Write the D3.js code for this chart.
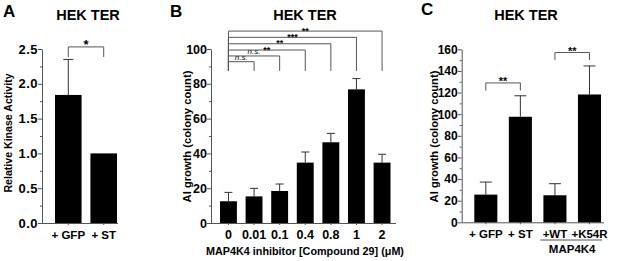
<!DOCTYPE html>
<html><head><meta charset="utf-8">
<script src="https://cdn.jsdelivr.net/npm/d3@7"></script>
<style>
html,body{margin:0;padding:0;background:#fff;}
svg{display:block;}
text{font-family:"Liberation Sans",Arial,Helvetica,sans-serif;font-weight:bold;fill:#000;}
</style></head>
<body><svg id="c" width="617" height="261"></svg>
<script>
// ---- Panel A data ----
const catsA = ["+ GFP", "+ ST"];
const valsA = [1.84, 1.0];
const errA = [0.51, 0];
const ticksA = [0, 0.5, 1.0, 1.5, 2.0, 2.5];
const sigA = [["+ GFP", "+ ST", "*", 2.53, 2.385]];

// ---- Panel B data ----
const catsB = ["0", "0.01", "0.1", "0.4", "0.8", "1", "2"];
const valsB = [12.5, 15.3, 18.4, 34.7, 46.4, 76.8, 34.7];
const errB = [5.1, 4.6, 4.0, 6.1, 5.1, 6.2, 4.8];
const ticksB = [0, 20, 40, 60, 80, 100];
const sigB = [
  ["0", "0.01", "n.s.", 92.7, 87.4],
  ["0", "0.1", "n.s.", 96.0, 87.4],
  ["0", "0.4", "**", 99.4, 87.4],
  ["0", "0.8", "**", 103.0, 87.4],
  ["0", "1", "***", 106.7, 87.4],
  ["0", "2", "**", 110.3, 87.4]
];

// ---- Panel C data ----
const catsC = ["+ GFP", "+ ST", "+WT", "+K54R"];
const valsC = [25.6, 97.6, 25.0, 118.2];
const errC = [11.6, 19.4, 10.7, 26.4];
const ticksC = [0, 20, 40, 60, 80, 100, 120, 140, 160];
const sigC = [
  ["+ GFP", "+ ST", "**", 128.9, 121.8],
  ["+WT", "+K54R", "**", 157.0, 150.0]
];

const svg = d3.select("#c");
const AX = "#555";

function panel(o) {
  const g = svg.append("g");
  const y = d3.scaleLinear().domain(o.ydom).range([o.bottom, o.top]);
  const x = d3.scaleBand().domain(o.cats).range(o.barRange).paddingInner(o.pad).paddingOuter(0);
  const minor = [];
  for (let i = 0; i < o.ticks.length - 1; i++) minor.push((o.ticks[i] + o.ticks[i + 1]) / 2);
  g.append("g").attr("transform", `translate(${o.axisX},0)`)
    .call(d3.axisLeft(y).tickValues(minor).tickSize(2).tickFormat(""))
    .call(s => { s.select(".domain").remove(); s.selectAll("line").attr("stroke", AX); });
  const ya = g.append("g").attr("transform", `translate(${o.axisX},0)`)
    .call(d3.axisLeft(y).tickValues(o.ticks).tickSize(4).tickPadding(o.tickPad).tickFormat(o.fmt).tickSizeOuter(0));
  ya.select(".domain").attr("stroke", AX);
  ya.selectAll("line").attr("stroke", AX);
  ya.selectAll("text").style("font-size", o.yfs + "px").style("font-family", "'Liberation Sans',Arial,sans-serif")
    .style("font-weight", "bold").attr("fill", "#000").style("letter-spacing", (o.ls || 0) + "px");
  const xa = g.append("g").attr("transform", `translate(0,${o.bottom})`)
    .call(d3.axisBottom(x).tickSize(2).tickPadding(o.xPad));
  xa.select(".domain").remove();
  xa.selectAll("line").attr("stroke", AX);
  xa.selectAll("text").style("font-size", o.xfs + "px").style("font-family", "'Liberation Sans',Arial,sans-serif")
    .style("font-weight", "bold").attr("fill", "#000");
  g.append("line").attr("x1", o.axisX).attr("x2", o.axisEnd).attr("y1", o.bottom + 0.5).attr("y2", o.bottom + 0.5)
    .attr("stroke", AX).attr("stroke-width", 1);
  const cx = d => x(d) + x.bandwidth() / 2;
  o.cats.forEach((c, i) => {
    if (o.err[i] > 0) {
      g.append("line").attr("x1", cx(c)).attr("x2", cx(c)).attr("y1", y(o.vals[i])).attr("y2", y(o.vals[i] + o.err[i]))
        .attr("stroke", "#333").attr("stroke-width", 1);
      g.append("line").attr("x1", cx(c) - o.cap / 2).attr("x2", cx(c) + o.cap / 2)
        .attr("y1", y(o.vals[i] + o.err[i])).attr("y2", y(o.vals[i] + o.err[i]))
        .attr("stroke", "#333").attr("stroke-width", 1);
    }
  });
  g.selectAll("rect.bar").data(o.cats).join("rect").attr("class", "bar")
    .attr("x", d => x(d)).attr("width", x.bandwidth())
    .attr("y", (d, i) => y(o.vals[i])).attr("height", (d, i) => o.bottom - y(o.vals[i]))
    .attr("fill", "#000");
  o.sig.forEach(s => {
    const x1 = cx(s[0]), x2 = cx(s[1]), yt = y(s[3]), yb = y(s[4]);
    g.append("path").attr("d", `M${x1},${yb}V${yt}H${x2}V${yb}`).attr("fill", "none")
      .attr("stroke", "#555").attr("stroke-width", 1);
    const ns = s[2] === "n.s.";
    g.append("text").attr("x", (x1 + x2) / 2).attr("y", yt - (ns ? 1.5 : -2.5)).attr("text-anchor", "middle")
      .style("font-size", (ns ? o.nsfs : o.sfs) + "px").style("font-style", ns ? "italic" : "normal")
      .style("font-weight", ns ? "normal" : "bold")
      .text(s[2]);
  });
  g.append("text").attr("x", o.titleX).attr("y", 20).attr("text-anchor", "middle").style("font-size", "14.5px").text("HEK TER");
  g.append("text").attr("x", o.letterX).attr("y", o.letterY).style("font-size", "17px").text(o.letter);
  g.append("text").attr("transform", `translate(${o.ylX},${o.ylY}) rotate(-90)`).attr("text-anchor", "middle")
    .style("font-size", o.ylfs + "px").text(o.ylabel);
  return { g, x, y };
}

panel({
  cats: catsA, vals: valsA, err: errA, ticks: ticksA, sig: sigA, ydom: [0, 2.5],
  top: 49, bottom: 223, axisX: 42, axisEnd: 118, barRange: [55, 117], pad: 0.25,
  fmt: d3.format(".1f"), yfs: 13, ls: 0.5, tickPad: 0, xfs: 11.5, xPad: 6, cap: 10,
  sfs: 13, nsfs: 8, titleX: 88, letter: "A", letterX: 3, letterY: 17,
  ylabel: "Relative Kinase Activity", ylX: 12, ylY: 133, ylfs: 10.6
});

const pB = panel({
  cats: catsB, vals: valsB, err: errB, ticks: ticksB, sig: sigB, ydom: [0, 100],
  top: 49, bottom: 223, axisX: 211, axisEnd: 396, barRange: [220, 390.5], pad: 0.34,
  fmt: d3.format("d"), yfs: 12.5, tickPad: 0, xfs: 12.5, xPad: 5, cap: 8,
  sfs: 9, nsfs: 8, titleX: 305, letter: "B", letterX: 170, letterY: 17,
  ylabel: "AI growth (colony count)", ylX: 191, ylY: 136.5, ylfs: 11.2
});
pB.g.append("text").attr("x", 305).attr("y", 254.5).attr("text-anchor", "middle").style("font-size", "10.8px")
  .text("MAP4K4 inhibitor [Compound 29] (\u03BCM)");

const pC = panel({
  cats: catsC, vals: valsC, err: errC, ticks: ticksC, sig: sigC, ydom: [0, 160],
  top: 49.3, bottom: 222.3, axisX: 461.7, axisEnd: 604, barRange: [474.3, 601], pad: 0.333,
  fmt: d3.format("d"), yfs: 12, tickPad: 0, xfs: 11.5, xPad: 6, cap: 12,
  sfs: 11, nsfs: 8, titleX: 526, letter: "C", letterX: 421, letterY: 15,
  ylabel: "AI growth (colony count)", ylX: 438, ylY: 136.5, ylfs: 11.2
});
{
  const x = pC.x, bw = x.bandwidth();
  pC.g.append("line").attr("x1", x("+WT") - 3).attr("x2", x("+K54R") + bw + 1).attr("y1", 240).attr("y2", 240)
    .attr("stroke", "#555").attr("stroke-width", 1);
  pC.g.append("text").attr("x", (x("+WT") + x("+K54R") + bw) / 2).attr("y", 252.5).attr("text-anchor", "middle")
    .style("font-size", "11.5px").text("MAP4K4");
}
</script></body></html>
